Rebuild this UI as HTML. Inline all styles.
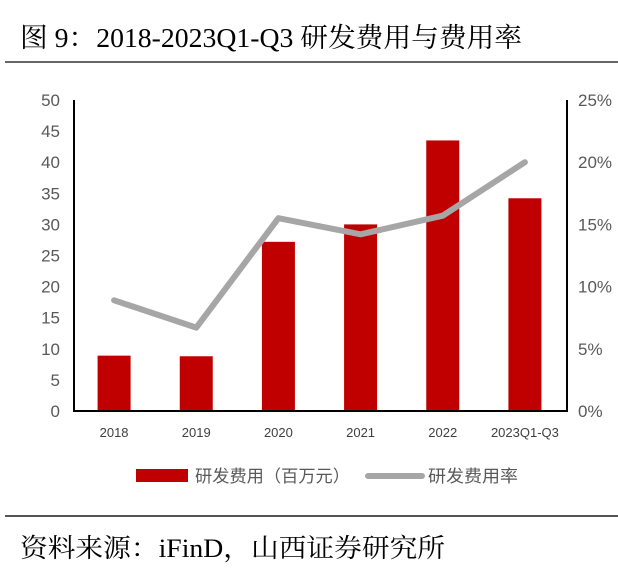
<!DOCTYPE html>
<html><head><meta charset="utf-8"><style>
body{margin:0;background:#fff;width:618px;height:578px;overflow:hidden;}
svg{display:block;}
</style></head><body>
<svg id="chart" width="618" height="578" xmlns="http://www.w3.org/2000/svg">
<text x="20" y="47" font-family="'Liberation Serif','Noto Serif CJK SC',serif" font-size="27" textLength="502" lengthAdjust="spacingAndGlyphs" fill="#000">图 9：2018-2023Q1-Q3 研发费用与费用率</text>
<line x1="5" y1="62" x2="618" y2="62" stroke="#666" stroke-width="2"/>
<g id="plot"></g>
<g>
<rect x="136" y="469" width="52" height="13" fill="#c00000"/>
<text x="195" y="482" font-family="'Liberation Sans','Noto Sans CJK SC',sans-serif" font-size="17" textLength="155" lengthAdjust="spacingAndGlyphs" fill="#595959">研发费用（百万元）</text>
<line x1="368" y1="476" x2="422" y2="476" stroke="#a6a6a6" stroke-width="6" stroke-linecap="round"/>
<text x="428" y="482" font-family="'Liberation Sans','Noto Sans CJK SC',sans-serif" font-size="17" textLength="90" lengthAdjust="spacingAndGlyphs" fill="#595959">研发费用率</text>
</g>
<line x1="5" y1="516" x2="618" y2="516" stroke="#555" stroke-width="2"/>
<text x="20" y="557" font-family="'Liberation Serif','Noto Serif CJK SC',serif" font-size="26" textLength="425" lengthAdjust="spacingAndGlyphs" fill="#000">资料来源：iFinD，山西证券研究所</text>
</svg>
<script>
const categories=['2018','2019','2020','2021','2022','2023Q1-Q3'];
const expense=[8.9,8.8,27.2,30.0,43.5,34.2];
const rate=[8.9,6.7,15.5,14.2,15.7,20.0];
const leftTicks=[0,5,10,15,20,25,30,35,40,45,50];
const rightTicks=[0,5,10,15,20,25];

const NS='http://www.w3.org/2000/svg';
const g=document.getElementById('plot');
const X0=74,X1=567,Y0=411,Y1=100;
const band=(X1-X0)/categories.length;
const xc=i=>X0+band*(i+0.5)-1;
const yl=v=>Y0-(v/50)*(Y0-Y1);
const yr=v=>Y0-(v/25)*(Y0-Y1);
function mk(t,a){const e=document.createElementNS(NS,t);for(const k in a)e.setAttribute(k,a[k]);g.appendChild(e);return e;}
const font="'Liberation Sans','DejaVu Sans',sans-serif";
leftTicks.forEach(v=>{const t=mk('text',{x:60,y:yl(v)+6,'text-anchor':'end','font-family':font,'font-size':17,fill:'#595959'});t.textContent=v;

});
rightTicks.forEach(v=>{const t=mk('text',{x:578,y:yr(v)+6,'font-family':font,'font-size':17,fill:'#595959'});t.textContent=v+'%';

});
expense.forEach((v,i)=>{const r=mk('rect',{x:xc(i)-16.5,y:yl(v),width:33,height:Y0-yl(v),fill:'#c00000'});

});
const pl=mk('polyline',{points:rate.map((v,i)=>xc(i)+','+yr(v)).join(' '),fill:'none',stroke:'#a6a6a6','stroke-width':6,'stroke-linejoin':'round','stroke-linecap':'round'});


categories.forEach((c,i)=>{const t=mk('text',{x:xc(i),y:437,'text-anchor':'middle','font-family':font,'font-size':13,fill:'#404040'});t.textContent=c;

});
const la=mk('line',{x1:X0,y1:Y1,x2:X0,y2:Y0+1,stroke:'#000','stroke-width':2});


const ra=mk('line',{x1:X1,y1:Y1,x2:X1,y2:Y0+1,stroke:'#000','stroke-width':2});


const xa=mk('line',{x1:X0,y1:Y0,x2:X1,y2:Y0,stroke:'#000','stroke-width':2});


</script>
</body></html>
